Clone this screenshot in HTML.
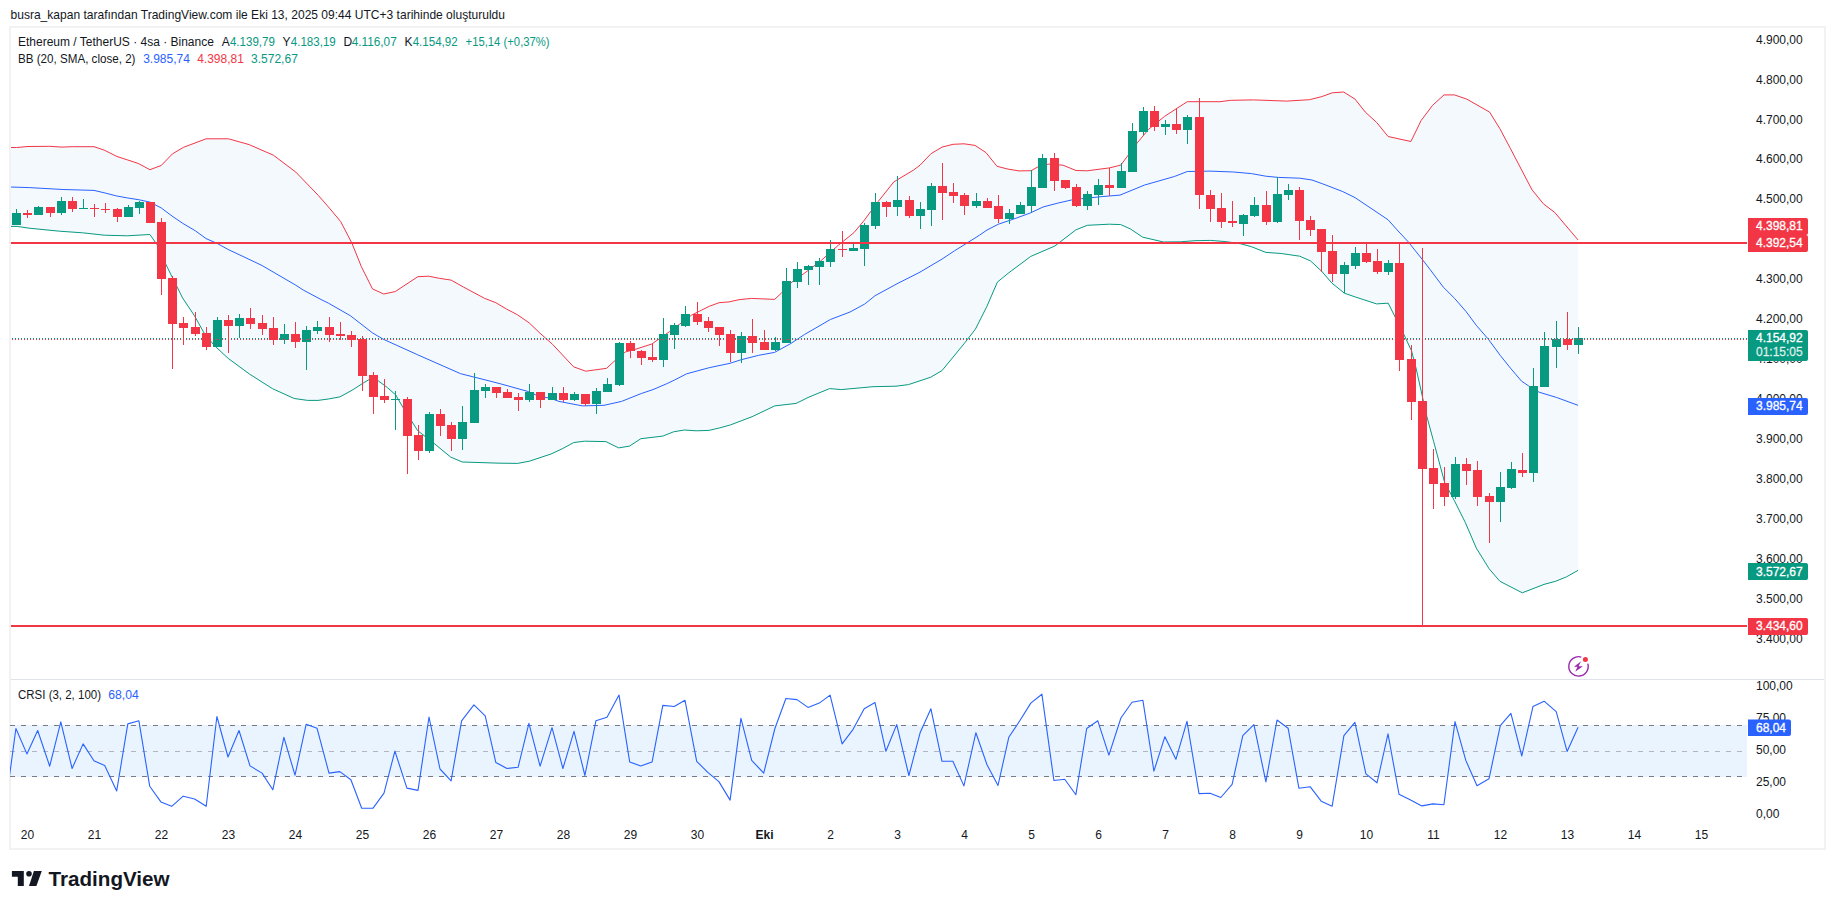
<!DOCTYPE html><html><head><meta charset="utf-8"><title>TradingView ETHUSDT</title><style>html,body{margin:0;padding:0;background:#fff;width:1835px;height:909px;overflow:hidden}svg{display:block}text{font-family:"Liberation Sans",sans-serif}</style></head><body>
<svg width="1835" height="909" viewBox="0 0 1835 909" shape-rendering="crispEdges">
<defs><clipPath id="cm"><rect x="11" y="28" width="1736" height="651"/></clipPath><clipPath id="cc"><rect x="10" y="680" width="1737" height="140"/></clipPath></defs>
<text x="10.5" y="19" font-size="12.6" textLength="494.5" lengthAdjust="spacingAndGlyphs" fill="#131722">busra_kapan tarafından TradingView.com ile Eki 13, 2025 09:44 UTC+3 tarihinde oluşturuldu</text>
<rect x="10" y="27" width="1815" height="822" fill="none" stroke="#f2f2f2" stroke-width="2"/>
<g clip-path="url(#cm)">
<polygon points="5,147.5 10.1,147.5 16.5,147.5 28,146.5 49.8,146.3 61.9,147.1 72.2,146.7 94,146.7 104.2,150.1 117,156.5 127.2,159.8 138.1,163.4 149.9,169.7 161.2,165.5 172.4,153.9 183.3,147.4 206.1,138.8 228.5,138.8 249.1,144.6 273.4,155.2 295.8,172.1 318.3,195.4 329.5,208.2 340.7,221.6 351.9,243.1 361.3,266.5 372.5,288.9 383.7,294 395.2,291.6 417.8,276.7 428.6,276.2 439.8,278.4 451.1,280.1 463.4,287 484.5,298.3 495.8,302.7 506.5,309 517.3,314.7 529.1,322.8 539.9,333.1 552.6,344.4 573.6,366.8 585.7,371.2 606.6,368.3 615.4,360.2 625.3,352 635,349.4 651.8,344 659.7,338.5 669.6,331.6 679.5,324.2 691.4,315.2 709.2,306.3 719.1,302.7 729,301.9 738.9,299.7 751.8,298.4 774.6,299.4 781.5,293 790.8,282.9 804.7,273 820.5,261.1 838.4,245.2 854.2,232.4 864.1,220.5 878,201.7 893.8,181.9 913.6,170 920,165.2 931,153.7 942,147.1 953,144.3 964,143.8 975,145.4 986,152.6 997,166.3 1008,169.1 1019,170.9 1031,170.7 1041,165.2 1048.7,164.1 1063,165.2 1076,170.5 1087.2,170.8 1109.3,167.9 1120.8,165.1 1127.2,156.5 1137.2,142.9 1148.6,129.3 1164.4,116.5 1176.5,108.6 1187.3,101.7 1220,101.7 1230.7,100.3 1253.5,99.9 1286.6,101.1 1309.4,99.7 1321.8,96.6 1332.2,92.8 1343.6,92 1355,99.1 1365.3,112.1 1376.7,122.5 1388.1,136.5 1410.9,141.5 1421.2,120.4 1432.6,105.3 1444,94.9 1454.4,94.9 1466.8,99.1 1489.6,112.1 1499.9,128.7 1510.3,148.3 1520.6,168 1532,189.8 1543.4,203.8 1554.8,212.5 1566.2,226 1578,239.9 1578,570.4 1566.4,576.9 1555.5,581.3 1544,584.4 1522.3,592.8 1499.9,581.3 1489,568.6 1476.3,548.1 1465.4,522.7 1454.5,500.9 1444.6,482.3 1433.6,441.4 1426.9,416.7 1416,368 1411.5,350.8 1403.8,334.3 1388.2,303.2 1376.6,303.9 1355.4,297 1344.4,293.2 1332,283.2 1321.3,270.9 1310.5,260.9 1299.7,256.2 1281.2,253.5 1265.8,252.4 1251.4,246.7 1241.2,243.9 1225.8,241.6 1210.4,240.4 1195,240.7 1180.3,241.8 1163.6,242 1142.7,237.2 1130.2,228.8 1120.7,224.6 1109.3,224.2 1087.3,225.3 1075.8,229.9 1054.9,246 1030.8,256.4 1008.9,272.7 997.4,282.1 987,306.2 975.4,329.2 964,343.8 942,370.6 930.5,377.3 908.5,384.6 896,386.2 873,386.7 850,388.8 841.4,389.6 829.6,388.6 808,397.5 796.2,403.4 774.7,405.9 752.1,416.7 730.5,424.9 719.7,427.9 708.9,430.4 696.2,430.8 684.4,430 673.6,431.8 662.8,436.1 640.9,438.7 629.5,446.1 618.7,447.9 605.9,441.6 584.4,441.2 573.6,442.6 562.8,448.5 551,454 529.4,461.2 517.7,463.4 500,463.2 462.3,462 450.7,457.1 432.6,442.2 417.7,430.7 402.9,407.3 395.7,394.9 387.4,387.6 378.1,380.7 369.8,379.1 362.5,383.5 352.2,390.2 339.8,396.9 328.4,399 318,400.4 307.7,400.4 294.2,398.5 272.5,388.7 249.7,374.2 228.2,358.4 214.3,345.5 204.4,333.6 194.5,315.8 182.6,298 172.7,278.2 164.8,262.3 156.9,244.5 149.9,234.5 127.2,235.8 104.2,235.2 82.5,232.8 59.5,231.2 29.2,228.2 17.1,226.4 10.1,226.4 5,226.4" fill="#f4f9fe" shape-rendering="auto"/>
<polyline points="5,226.4 10.1,226.4 17.1,226.4 29.2,228.2 59.5,231.2 82.5,232.8 104.2,235.2 127.2,235.8 149.9,234.5 156.9,244.5 164.8,262.3 172.7,278.2 182.6,298 194.5,315.8 204.4,333.6 214.3,345.5 228.2,358.4 249.7,374.2 272.5,388.7 294.2,398.5 307.7,400.4 318,400.4 328.4,399 339.8,396.9 352.2,390.2 362.5,383.5 369.8,379.1 378.1,380.7 387.4,387.6 395.7,394.9 402.9,407.3 417.7,430.7 432.6,442.2 450.7,457.1 462.3,462 500,463.2 517.7,463.4 529.4,461.2 551,454 562.8,448.5 573.6,442.6 584.4,441.2 605.9,441.6 618.7,447.9 629.5,446.1 640.9,438.7 662.8,436.1 673.6,431.8 684.4,430 696.2,430.8 708.9,430.4 719.7,427.9 730.5,424.9 752.1,416.7 774.7,405.9 796.2,403.4 808,397.5 829.6,388.6 841.4,389.6 850,388.8 873,386.7 896,386.2 908.5,384.6 930.5,377.3 942,370.6 964,343.8 975.4,329.2 987,306.2 997.4,282.1 1008.9,272.7 1030.8,256.4 1054.9,246 1075.8,229.9 1087.3,225.3 1109.3,224.2 1120.7,224.6 1130.2,228.8 1142.7,237.2 1163.6,242 1180.3,241.8 1195,240.7 1210.4,240.4 1225.8,241.6 1241.2,243.9 1251.4,246.7 1265.8,252.4 1281.2,253.5 1299.7,256.2 1310.5,260.9 1321.3,270.9 1332,283.2 1344.4,293.2 1355.4,297 1376.6,303.9 1388.2,303.2 1403.8,334.3 1411.5,350.8 1416,368 1426.9,416.7 1433.6,441.4 1444.6,482.3 1454.5,500.9 1465.4,522.7 1476.3,548.1 1489,568.6 1499.9,581.3 1522.3,592.8 1544,584.4 1555.5,581.3 1566.4,576.9 1578,570.4" fill="none" stroke="#089981" stroke-width="1" shape-rendering="auto" stroke-linejoin="round"/>
<polyline points="5,147.5 10.1,147.5 16.5,147.5 28,146.5 49.8,146.3 61.9,147.1 72.2,146.7 94,146.7 104.2,150.1 117,156.5 127.2,159.8 138.1,163.4 149.9,169.7 161.2,165.5 172.4,153.9 183.3,147.4 206.1,138.8 228.5,138.8 249.1,144.6 273.4,155.2 295.8,172.1 318.3,195.4 329.5,208.2 340.7,221.6 351.9,243.1 361.3,266.5 372.5,288.9 383.7,294 395.2,291.6 417.8,276.7 428.6,276.2 439.8,278.4 451.1,280.1 463.4,287 484.5,298.3 495.8,302.7 506.5,309 517.3,314.7 529.1,322.8 539.9,333.1 552.6,344.4 573.6,366.8 585.7,371.2 606.6,368.3 615.4,360.2 625.3,352 635,349.4 651.8,344 659.7,338.5 669.6,331.6 679.5,324.2 691.4,315.2 709.2,306.3 719.1,302.7 729,301.9 738.9,299.7 751.8,298.4 774.6,299.4 781.5,293 790.8,282.9 804.7,273 820.5,261.1 838.4,245.2 854.2,232.4 864.1,220.5 878,201.7 893.8,181.9 913.6,170 920,165.2 931,153.7 942,147.1 953,144.3 964,143.8 975,145.4 986,152.6 997,166.3 1008,169.1 1019,170.9 1031,170.7 1041,165.2 1048.7,164.1 1063,165.2 1076,170.5 1087.2,170.8 1109.3,167.9 1120.8,165.1 1127.2,156.5 1137.2,142.9 1148.6,129.3 1164.4,116.5 1176.5,108.6 1187.3,101.7 1220,101.7 1230.7,100.3 1253.5,99.9 1286.6,101.1 1309.4,99.7 1321.8,96.6 1332.2,92.8 1343.6,92 1355,99.1 1365.3,112.1 1376.7,122.5 1388.1,136.5 1410.9,141.5 1421.2,120.4 1432.6,105.3 1444,94.9 1454.4,94.9 1466.8,99.1 1489.6,112.1 1499.9,128.7 1510.3,148.3 1520.6,168 1532,189.8 1543.4,203.8 1554.8,212.5 1566.2,226 1578,239.9" fill="none" stroke="#f23645" stroke-width="1" shape-rendering="auto" stroke-linejoin="round"/>
<polyline points="5,187 10.1,187 29.2,187.6 63.1,189.5 94,190.4 105.5,193.1 116.3,195.9 127.2,197.9 139.3,199.8 150.2,202.2 161.3,208 172,216 182.8,223.4 195.2,230.7 206.1,238.6 217.3,243.5 228.2,249.5 245,257.4 262.2,265.6 295.8,285.2 303.2,290 322,300 328.5,303.2 350.5,315.8 372.5,332.9 383,339.1 417.7,354.8 460.6,373.7 490,381.1 500,383.7 528.5,391.6 539.2,396.5 550.5,398.2 558.9,401.4 582.4,405.9 604,405.3 621.6,401.4 641.3,393.5 653,389.6 666.8,383.7 674.6,380 686.4,373.9 709.2,367.7 730,363.3 740.9,359.8 758.7,355.3 774.6,352.4 790,344 804.7,334.4 830.4,319.5 850,312 864.6,304.1 875.1,295.7 898.1,283.2 919,272.7 942,259.1 954.5,250.8 967.1,243 979.6,235.1 987,230 998.4,224.2 1013.5,219.1 1030,213.1 1043,207 1057.5,203.2 1071.9,199.9 1081.4,198.7 1102.9,196.5 1120,195.1 1144.4,185.1 1174.4,176.5 1187.3,171.5 1210,171.1 1233.5,172 1251.4,173.6 1265.8,176.2 1278.2,177.4 1299.7,178.2 1312,180 1322.8,183.9 1342.8,191.6 1355,197.6 1388.1,219.8 1397.2,230 1408.2,241.8 1422.5,259.7 1430,269.4 1443.2,287 1454.6,298.4 1466.1,311.6 1476.6,325.7 1488.1,338.9 1500.4,355.6 1511,368.8 1521.5,381.1 1528.6,385.9 1539.1,392.2 1556.7,397.5 1578,405.3" fill="none" stroke="#2962ff" stroke-width="1" shape-rendering="auto" stroke-linejoin="round"/>
<line x1="11" y1="338.5" x2="1747" y2="338.5" stroke="#089981" stroke-width="1" stroke-dasharray="1 2" stroke-dashoffset="-1"/>
<path d="M16 209h1v4h-1zM12 213h9v12h-9zM38 206h1v1h-1zM34 207h9v8h-9zM61 197h1v4h-1zM61 213h1v2h-1zM57 201h9v12h-9zM83 199h1v9h-1zM79 208h9v1h-9zM128 205h1v2h-1zM124 207h9v10h-9zM139 201h1v1h-1zM139 208h1v6h-1zM135 202h9v6h-9zM217 317h1v3h-1zM213 320h9v27h-9zM239 314h1v4h-1zM239 326h1v12h-1zM235 318h9v8h-9zM284 324h1v10h-1zM284 340h1v4h-1zM280 334h9v6h-9zM306 326h1v4h-1zM306 342h1v28h-1zM302 330h9v12h-9zM317 321h1v6h-1zM317 331h1v3h-1zM313 327h9v4h-9zM395 391h1v8h-1zM395 400h1v30h-1zM391 399h9v1h-9zM429 412h1v2h-1zM429 451h1v2h-1zM425 414h9v37h-9zM462 406h1v16h-1zM462 439h1v11h-1zM458 422h9v17h-9zM474 373h1v17h-1zM470 390h9v33h-9zM485 384h1v3h-1zM485 391h1v7h-1zM481 387h9v4h-9zM529 384h1v8h-1zM529 400h1v2h-1zM525 392h9v8h-9zM552 387h1v6h-1zM548 393h9v7h-9zM574 392h1v2h-1zM574 400h1v1h-1zM570 394h9v6h-9zM596 388h1v3h-1zM596 404h1v10h-1zM592 391h9v13h-9zM607 378h1v6h-1zM603 384h9v8h-9zM619 342h1v1h-1zM619 385h1v1h-1zM615 343h9v42h-9zM663 318h1v16h-1zM663 360h1v7h-1zM659 334h9v26h-9zM674 323h1v2h-1zM674 335h1v14h-1zM670 325h9v10h-9zM685 306h1v8h-1zM685 326h1v1h-1zM681 314h9v12h-9zM741 332h1v4h-1zM741 353h1v10h-1zM737 336h9v17h-9zM775 337h1v5h-1zM775 350h1v1h-1zM771 342h9v8h-9zM786 268h1v13h-1zM782 281h9v62h-9zM797 262h1v7h-1zM797 282h1v6h-1zM793 269h9v13h-9zM808 265h1v1h-1zM808 270h1v15h-1zM804 266h9v4h-9zM819 258h1v3h-1zM819 267h1v18h-1zM815 261h9v6h-9zM830 240h1v9h-1zM830 262h1v5h-1zM826 249h9v13h-9zM853 242h1v6h-1zM849 248h9v3h-9zM864 223h1v2h-1zM864 249h1v17h-1zM860 225h9v24h-9zM875 193h1v9h-1zM875 226h1v3h-1zM871 202h9v24h-9zM897 176h1v24h-1zM897 207h1v9h-1zM893 200h9v7h-9zM920 202h1v7h-1zM920 216h1v13h-1zM916 209h9v7h-9zM931 183h1v3h-1zM931 210h1v16h-1zM927 186h9v24h-9zM976 193h1v8h-1zM976 206h1v2h-1zM972 201h9v5h-9zM1009 209h1v4h-1zM1009 219h1v5h-1zM1005 213h9v6h-9zM1020 202h1v3h-1zM1016 205h9v9h-9zM1031 170h1v17h-1zM1031 206h1v7h-1zM1027 187h9v19h-9zM1042 154h1v4h-1zM1038 158h9v30h-9zM1087 191h1v3h-1zM1087 206h1v4h-1zM1083 194h9v12h-9zM1098 179h1v6h-1zM1098 195h1v10h-1zM1094 185h9v10h-9zM1121 163h1v8h-1zM1117 171h9v17h-9zM1132 123h1v8h-1zM1128 131h9v41h-9zM1143 107h1v4h-1zM1143 132h1v3h-1zM1139 111h9v21h-9zM1165 120h1v4h-1zM1165 127h1v8h-1zM1161 124h9v3h-9zM1187 115h1v2h-1zM1187 130h1v14h-1zM1183 117h9v13h-9zM1243 214h1v1h-1zM1243 224h1v12h-1zM1239 215h9v9h-9zM1254 197h1v8h-1zM1254 216h1v1h-1zM1250 205h9v11h-9zM1277 177h1v17h-1zM1277 222h1v1h-1zM1273 194h9v28h-9zM1288 184h1v6h-1zM1288 195h1v5h-1zM1284 190h9v5h-9zM1344 262h1v3h-1zM1344 274h1v19h-1zM1340 265h9v9h-9zM1355 247h1v6h-1zM1355 266h1v3h-1zM1351 253h9v13h-9zM1388 260h1v3h-1zM1388 272h1v3h-1zM1384 263h9v9h-9zM1455 457h1v7h-1zM1455 497h1v2h-1zM1451 464h9v33h-9zM1500 472h1v15h-1zM1500 502h1v20h-1zM1496 487h9v15h-9zM1511 462h1v7h-1zM1511 488h1v1h-1zM1507 469h9v19h-9zM1533 368h1v18h-1zM1533 473h1v9h-1zM1529 386h9v87h-9zM1544 332h1v14h-1zM1540 346h9v41h-9zM1556 321h1v18h-1zM1556 347h1v21h-1zM1552 339h9v8h-9zM1578 327h1v11h-1zM1578 345h1v9h-1zM1574 338h9v7h-9z" fill="#089981"/>
<path d="M27 210h1v3h-1zM27 215h1v3h-1zM23 213h9v2h-9zM50 213h1v4h-1zM46 207h9v6h-9zM72 197h1v4h-1zM72 209h1v3h-1zM68 201h9v8h-9zM94 204h1v4h-1zM94 209h1v8h-1zM90 208h9v1h-9zM105 203h1v6h-1zM105 210h1v3h-1zM101 209h9v1h-9zM117 208h1v1h-1zM117 217h1v5h-1zM113 209h9v8h-9zM146 202h9v21h-9zM161 218h1v4h-1zM161 279h1v16h-1zM157 222h9v57h-9zM172 276h1v2h-1zM172 324h1v45h-1zM168 278h9v46h-9zM183 317h1v6h-1zM183 328h1v17h-1zM179 323h9v5h-9zM195 312h1v15h-1zM195 334h1v2h-1zM191 327h9v7h-9zM206 327h1v6h-1zM206 347h1v3h-1zM202 333h9v14h-9zM228 315h1v5h-1zM228 326h1v27h-1zM224 320h9v6h-9zM250 308h1v10h-1zM250 324h1v5h-1zM246 318h9v6h-9zM262 315h1v8h-1zM262 329h1v6h-1zM258 323h9v6h-9zM273 317h1v11h-1zM273 340h1v5h-1zM269 328h9v12h-9zM295 322h1v12h-1zM295 342h1v6h-1zM291 334h9v8h-9zM329 317h1v10h-1zM329 335h1v7h-1zM325 327h9v8h-9zM340 322h1v12h-1zM340 336h1v4h-1zM336 334h9v2h-9zM351 331h1v4h-1zM351 340h1v7h-1zM347 335h9v5h-9zM362 336h1v3h-1zM362 376h1v15h-1zM358 339h9v37h-9zM373 372h1v3h-1zM373 397h1v17h-1zM369 375h9v22h-9zM384 379h1v17h-1zM384 400h1v3h-1zM380 396h9v4h-9zM407 397h1v2h-1zM407 436h1v38h-1zM403 399h9v37h-9zM418 425h1v10h-1zM418 451h1v9h-1zM414 435h9v16h-9zM440 409h1v5h-1zM440 426h1v10h-1zM436 414h9v12h-9zM451 422h1v3h-1zM451 439h1v12h-1zM447 425h9v14h-9zM496 393h1v5h-1zM492 387h9v6h-9zM507 389h1v3h-1zM503 392h9v6h-9zM518 393h1v4h-1zM518 400h1v11h-1zM514 397h9v3h-9zM540 400h1v8h-1zM536 392h9v8h-9zM563 387h1v6h-1zM563 400h1v2h-1zM559 393h9v7h-9zM585 404h1v2h-1zM581 394h9v10h-9zM630 341h1v2h-1zM630 351h1v7h-1zM626 343h9v8h-9zM641 350h1v1h-1zM641 358h1v7h-1zM637 351h9v7h-9zM652 344h1v13h-1zM652 360h1v2h-1zM648 357h9v3h-9zM697 302h1v12h-1zM697 322h1v3h-1zM693 314h9v8h-9zM708 317h1v4h-1zM708 328h1v4h-1zM704 321h9v7h-9zM719 335h1v11h-1zM715 327h9v8h-9zM730 330h1v4h-1zM730 353h1v9h-1zM726 334h9v19h-9zM752 319h1v17h-1zM752 343h1v10h-1zM748 336h9v7h-9zM764 330h1v12h-1zM760 342h9v8h-9zM842 231h1v18h-1zM842 250h1v7h-1zM838 249h9v1h-9zM886 201h1v1h-1zM886 207h1v10h-1zM882 202h9v5h-9zM909 196h1v4h-1zM909 216h1v2h-1zM905 200h9v16h-9zM942 163h1v23h-1zM942 193h1v27h-1zM938 186h9v7h-9zM953 183h1v9h-1zM953 196h1v7h-1zM949 192h9v4h-9zM964 193h1v2h-1zM964 206h1v9h-1zM960 195h9v11h-9zM987 198h1v3h-1zM983 201h9v7h-9zM998 195h1v11h-1zM998 219h1v4h-1zM994 206h9v13h-9zM1054 153h1v5h-1zM1054 181h1v10h-1zM1050 158h9v23h-9zM1065 188h1v1h-1zM1061 180h9v8h-9zM1076 184h1v3h-1zM1076 206h1v1h-1zM1072 187h9v19h-9zM1109 168h1v17h-1zM1109 188h1v8h-1zM1105 185h9v3h-9zM1154 106h1v5h-1zM1154 127h1v4h-1zM1150 111h9v16h-9zM1176 108h1v16h-1zM1176 130h1v4h-1zM1172 124h9v6h-9zM1199 98h1v19h-1zM1199 195h1v14h-1zM1195 117h9v78h-9zM1210 190h1v5h-1zM1210 209h1v13h-1zM1206 195h9v14h-9zM1221 193h1v15h-1zM1221 222h1v6h-1zM1217 208h9v14h-9zM1232 201h1v20h-1zM1232 223h1v4h-1zM1228 221h9v2h-9zM1266 191h1v14h-1zM1266 222h1v3h-1zM1262 205h9v17h-9zM1299 187h1v3h-1zM1299 221h1v19h-1zM1295 190h9v31h-9zM1310 216h1v4h-1zM1310 230h1v6h-1zM1306 220h9v10h-9zM1321 252h1v20h-1zM1317 229h9v23h-9zM1332 235h1v16h-1zM1332 274h1v8h-1zM1328 251h9v23h-9zM1366 243h1v10h-1zM1366 262h1v1h-1zM1362 253h9v9h-9zM1377 249h1v12h-1zM1377 272h1v2h-1zM1373 261h9v11h-9zM1399 243h1v20h-1zM1399 360h1v11h-1zM1395 263h9v97h-9zM1411 345h1v14h-1zM1411 402h1v18h-1zM1407 359h9v43h-9zM1422 248h1v153h-1zM1422 469h1v156h-1zM1418 401h9v68h-9zM1433 449h1v19h-1zM1433 484h1v25h-1zM1429 468h9v16h-9zM1444 467h1v16h-1zM1444 497h1v9h-1zM1440 483h9v14h-9zM1466 458h1v6h-1zM1466 471h1v14h-1zM1462 464h9v7h-9zM1477 461h1v9h-1zM1477 497h1v9h-1zM1473 470h9v27h-9zM1489 493h1v3h-1zM1489 502h1v41h-1zM1485 496h9v6h-9zM1522 453h1v17h-1zM1522 473h1v4h-1zM1518 470h9v3h-9zM1567 312h1v27h-1zM1567 345h1v5h-1zM1563 339h9v6h-9z" fill="#f23645"/>
<line x1="11" y1="339.5" x2="1747" y2="339.5" stroke="#f23645" stroke-width="1" stroke-dasharray="1 2" stroke-dashoffset="-1"/>
<rect x="11" y="242" width="1736" height="2" fill="#f23645"/>
<rect x="11" y="625" width="1736" height="2" fill="#f23645"/>
</g>
<g font-size="12" fill="#131722">
<text x="18" y="46">Ethereum / TetherUS · 4sa · Binance</text>
<text x="221.7" y="46">A</text><text x="229.9" y="46" fill="#089981" textLength="45" lengthAdjust="spacingAndGlyphs">4.139,79</text>
<text x="282.6" y="46">Y</text><text x="290.8" y="46" fill="#089981" textLength="45" lengthAdjust="spacingAndGlyphs">4.183,19</text>
<text x="343.5" y="46">D</text><text x="351.7" y="46" fill="#089981" textLength="45" lengthAdjust="spacingAndGlyphs">4.116,07</text>
<text x="404.5" y="46">K</text><text x="412.7" y="46" fill="#089981" textLength="45" lengthAdjust="spacingAndGlyphs">4.154,92</text>
<text x="465.6" y="46" textLength="84" lengthAdjust="spacingAndGlyphs" fill="#089981">+15,14 (+0,37%)</text>
<text x="18" y="62.5" textLength="117.5" lengthAdjust="spacingAndGlyphs">BB (20, SMA, close, 2)</text>
<text x="143.2" y="62.5" fill="#2962ff">3.985,74</text>
<text x="197.2" y="62.5" fill="#f23645">4.398,81</text>
<text x="251.1" y="62.5" fill="#089981">3.572,67</text>
</g>
<g shape-rendering="auto"><path d="M1581.3,657.1 A9.7,9.7 0 1 0 1587.8,663.6" fill="none" stroke="#9c27b0" stroke-width="1.4"/><circle cx="1585.4" cy="659.4" r="2.5" fill="#f23645"/><path d="M1581.17,661.16 L1573.94,666.63 L1577.52,666.63 L1575.21,671.87 L1582.91,666.32 L1578.48,666.32 Z" fill="#9c27b0"/></g>
<rect x="11" y="679" width="1813" height="1" fill="#e0e3eb"/>
<g clip-path="url(#cc)">
<rect x="11" y="725" width="1736" height="52" fill="#e9f4fe"/>
<line x1="10" y1="725.5" x2="1747" y2="725.5" stroke="#787b86" stroke-width="1" stroke-dasharray="5 6"/>
<line x1="10" y1="751.5" x2="1747" y2="751.5" stroke="#b2b5be" stroke-width="1" stroke-dasharray="5 6"/>
<line x1="10" y1="776.5" x2="1747" y2="776.5" stroke="#787b86" stroke-width="1" stroke-dasharray="5 6"/>
<polyline points="5.5,806 15.9,728.5 26.9,753.9 37.7,730.5 49.7,766.2 60.8,721.9 72.1,768.5 83.1,743.9 93.9,760.8 104.7,765.5 116.7,790.9 127.8,723.9 138.9,720.8 149.7,786.2 160.9,801.9 171.7,806.3 183.2,796.2 194.6,799 206.2,806.3 216.9,716.5 228,757 239,730.5 250,765.9 262.1,773.1 272.8,789.8 283.9,737.3 295,775.2 306.2,724.2 317,728.2 329,773.1 339.8,771.6 350.9,779.8 361.7,808.3 372.9,808.3 384,793.2 394.9,751.1 406.9,788.1 418,790.4 429,717 440,769 451.1,780.8 461.6,720.8 473.9,704.9 485.2,715.9 495.8,762.4 507,768.5 518.1,767.3 528.9,723.4 540.1,766.2 552,727.7 562.9,768.5 574,731.3 584.9,775.5 595.9,720.8 607,717.3 619,695.1 629.7,761.9 640.8,765.9 652.1,761.9 662.8,705.4 674.2,706.5 685,700.3 696.7,761.3 707.8,772.4 718.9,781.6 730.1,800.1 740.9,718.2 751.7,760.4 763.7,773.1 774.9,728.5 785.9,698.5 797,699.6 808,707.4 819.3,703.1 830.1,695.1 842.1,743.9 853.1,729.3 864.2,708.8 875,702.6 885.9,751.3 896.7,724.6 908.9,775.5 920.1,732.8 930.9,708.8 942,761.3 952.9,761.3 963.9,785.9 975.9,732.7 987,764.7 998,785.5 1008.8,737.3 1020.1,720.3 1030.8,703.1 1041.9,694.2 1053.9,780.5 1064.7,779.3 1075.9,794.7 1086.7,728.5 1097.8,720.8 1108.9,755.1 1120.9,718 1132,702.3 1142.9,700.3 1153.9,771.1 1164.9,736.7 1175.9,759.3 1187,721.3 1199,793.6 1210.1,793.2 1220.8,797.5 1232.1,784.4 1242.8,735.7 1253.9,724.6 1265.9,781.9 1277,720 1288.1,728.2 1298.9,788.2 1310.1,786.7 1321.2,801.2 1332.1,806.3 1343.9,735.7 1354.9,722.3 1365.9,773.9 1377,782.8 1388,733.9 1399,794.2 1410.1,799.8 1421.9,805.9 1432.8,803.9 1443.9,804.7 1455,721.6 1465.8,760.4 1477,785.8 1489,778.8 1500.3,725.7 1510.9,713.3 1521.8,756 1533,706.4 1544.1,701.2 1556.2,711.7 1567.1,751.4 1578.1,727.2" fill="none" stroke="#2962ff" stroke-width="1.1" shape-rendering="auto" stroke-linejoin="round"/>
</g>
<text x="18" y="698.5" font-size="12" fill="#131722" textLength="83" lengthAdjust="spacingAndGlyphs">CRSI (3, 2, 100)</text><text x="108.3" y="698.5" font-size="12" fill="#2962ff" textLength="30.5" lengthAdjust="spacingAndGlyphs">68,04</text>
<g font-size="12" fill="#131722">
<text x="1756" y="43.7">4.900,00</text>
<text x="1756" y="83.63">4.800,00</text>
<text x="1756" y="123.56">4.700,00</text>
<text x="1756" y="163.49">4.600,00</text>
<text x="1756" y="203.42">4.500,00</text>
<text x="1756" y="243.35">4.400,00</text>
<text x="1756" y="283.28">4.300,00</text>
<text x="1756" y="323.21">4.200,00</text>
<text x="1756" y="363.14">4.100,00</text>
<text x="1756" y="403.07">4.000,00</text>
<text x="1756" y="443">3.900,00</text>
<text x="1756" y="482.93">3.800,00</text>
<text x="1756" y="522.86">3.700,00</text>
<text x="1756" y="562.79">3.600,00</text>
<text x="1756" y="602.72">3.500,00</text>
<text x="1756" y="642.65">3.400,00</text>
<text x="1756" y="690.2">100,00</text>
<text x="1756" y="721.9">75,00</text>
<text x="1756" y="754.1">50,00</text>
<text x="1756" y="786.3">25,00</text>
<text x="1756" y="818">0,00</text>
</g>
<path d="M1748 218h58a2 2 0 0 1 2 2v13a2 2 0 0 1 -2 2h-58z" fill="#f23645" shape-rendering="auto"/><text x="1756" y="229.9" font-size="12" fill="#fff" stroke="#fff" stroke-width="0.3">4.398,81</text>
<path d="M1748 235h58a2 2 0 0 1 2 2v13a2 2 0 0 1 -2 2h-58z" fill="#f23645" shape-rendering="auto"/><text x="1756" y="246.9" font-size="12" fill="#fff" stroke="#fff" stroke-width="0.3">4.392,54</text>
<path d="M1748 330h58a2 2 0 0 1 2 2v27a2 2 0 0 1 -2 2h-58z" fill="#089981" shape-rendering="auto"/><text x="1756" y="341.9" font-size="12" fill="#fff" stroke="#fff" stroke-width="0.3">4.154,92</text><text x="1756" y="356.4" font-size="12" fill="rgba(255,255,255,0.8)" stroke="rgba(255,255,255,0.8)" stroke-width="0.3">01:15:05</text>
<path d="M1748 398h58a2 2 0 0 1 2 2v13a2 2 0 0 1 -2 2h-58z" fill="#2962ff" shape-rendering="auto"/><text x="1756" y="409.9" font-size="12" fill="#fff" stroke="#fff" stroke-width="0.3">3.985,74</text>
<path d="M1748 563h58a2 2 0 0 1 2 2v13a2 2 0 0 1 -2 2h-58z" fill="#089981" shape-rendering="auto"/><text x="1756" y="575.9" font-size="12" fill="#fff" stroke="#fff" stroke-width="0.3">3.572,67</text>
<path d="M1748 618h58a2 2 0 0 1 2 2v13a2 2 0 0 1 -2 2h-58z" fill="#f23645" shape-rendering="auto"/><text x="1756" y="630.3" font-size="12" fill="#fff" stroke="#fff" stroke-width="0.3">3.434,60</text>
<path d="M1748 719.5h41a2 2 0 0 1 2 2v12.5a2 2 0 0 1 -2 2h-41z" fill="#2962ff" shape-rendering="auto"/><text x="1756" y="731.9" font-size="12" fill="#fff" stroke="#fff" stroke-width="0.3">68,04</text>
<g font-size="12" fill="#131722" text-anchor="middle">
<text x="27.5" y="839">20</text>
<text x="94.5" y="839">21</text>
<text x="161.5" y="839">22</text>
<text x="228.5" y="839">23</text>
<text x="295.5" y="839">24</text>
<text x="362.5" y="839">25</text>
<text x="429.5" y="839">26</text>
<text x="496.5" y="839">27</text>
<text x="563.5" y="839">28</text>
<text x="630.5" y="839">29</text>
<text x="697.5" y="839">30</text>
<text x="764.5" y="839" font-weight="bold">Eki</text>
<text x="830.5" y="839">2</text>
<text x="897.5" y="839">3</text>
<text x="964.5" y="839">4</text>
<text x="1031.5" y="839">5</text>
<text x="1098.5" y="839">6</text>
<text x="1165.5" y="839">7</text>
<text x="1232.5" y="839">8</text>
<text x="1299.5" y="839">9</text>
<text x="1366.5" y="839">10</text>
<text x="1433.5" y="839">11</text>
<text x="1500.5" y="839">12</text>
<text x="1567.5" y="839">13</text>
<text x="1634.5" y="839">14</text>
<text x="1701.5" y="839">15</text>
</g>
<g fill="#131722" shape-rendering="auto"><path d="M11.9 871.1H23.8V886H17.8V876.7H11.9Z"/><circle cx="29" cy="873.8" r="2.8"/><path d="M33.9 871.1H41.8L36.4 886H29Z"/><text x="48.6" y="886" font-size="20.4" font-weight="bold" textLength="121" lengthAdjust="spacingAndGlyphs">TradingView</text></g>
</svg></body></html>
